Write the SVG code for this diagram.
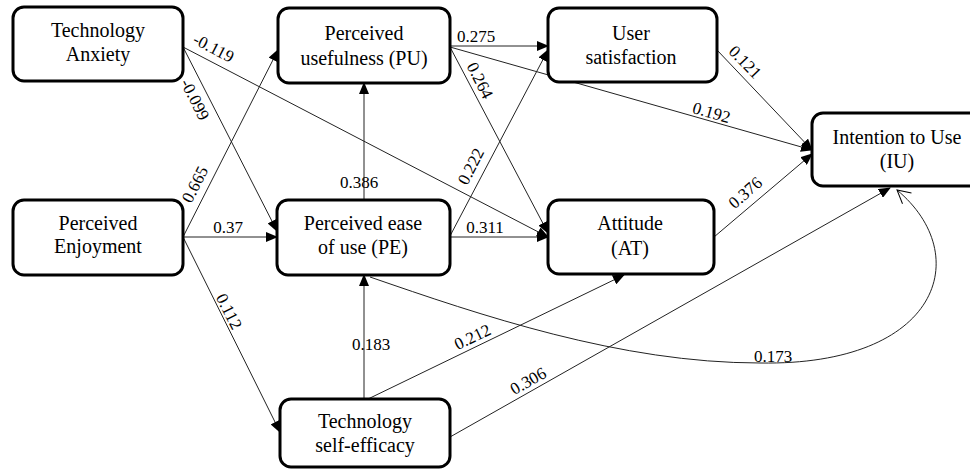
<svg xmlns="http://www.w3.org/2000/svg" width="970" height="471" viewBox="0 0 970 471">
<defs>
<marker id="ah" markerWidth="12" markerHeight="10" refX="11" refY="5" orient="auto" markerUnits="userSpaceOnUse"><path d="M0,0 L12,5 L0,10 z" fill="#000"/></marker>
<marker id="oh" markerWidth="16" markerHeight="16" refX="14" refY="8" orient="auto" markerUnits="userSpaceOnUse"><path d="M1,1 L14,8 L1,15" fill="none" stroke="#000" stroke-width="1"/></marker>
</defs>
<rect width="970" height="471" fill="#fff"/>
<g id="connectors">
<g fill="none" stroke="#222" stroke-width="1" marker-end="url(#ah)">
<path d="M183,47 L548,237"/>
<path d="M183,47 L277,231"/>
<path d="M183,237 L278,50"/>
<path d="M183,237 L277,237"/>
<path d="M183,237 L280,432"/>
<path d="M364,200 L364,83"/>
<path d="M364,399 L364,275"/>
<path d="M450,46 L548,46"/>
<path d="M450,47 L812,150"/>
<path d="M450,47 L548,233"/>
<path d="M450,236 L548,50"/>
<path d="M450,237 L548,237"/>
<path d="M717,50 L812,150"/>
<path d="M714,237 L812,154"/>
<path d="M368,399 L624,275"/>
<path d="M450,437 L890,188"/>
</g>
<path d="M370,277 C480,315 620,363 760,363 C940,366 975,255 897,190" fill="none" stroke="#222" stroke-width="1" marker-end="url(#oh)"/>
<text font-family="Liberation Serif, serif" font-size="17" text-anchor="middle" transform="translate(211,53) rotate(27.5)">-0.119</text>
<text font-family="Liberation Serif, serif" font-size="17" text-anchor="middle" transform="translate(190,102) rotate(63)">-0.099</text>
<text font-family="Liberation Serif, serif" font-size="17" text-anchor="middle" transform="translate(200,187) rotate(-63)">0.665</text>
<text font-family="Liberation Serif, serif" font-size="17" text-anchor="middle" x="228" y="233">0.37</text>
<text font-family="Liberation Serif, serif" font-size="17" text-anchor="middle" transform="translate(224,314) rotate(63)">0.112</text>
<text font-family="Liberation Serif, serif" font-size="17" text-anchor="middle" x="359" y="188">0.386</text>
<text font-family="Liberation Serif, serif" font-size="17" text-anchor="middle" x="371" y="350">0.183</text>
<text font-family="Liberation Serif, serif" font-size="17" text-anchor="middle" x="476" y="42">0.275</text>
<text font-family="Liberation Serif, serif" font-size="17" text-anchor="middle" transform="translate(475,83) rotate(63)">0.264</text>
<text font-family="Liberation Serif, serif" font-size="17" text-anchor="middle" transform="translate(476,169) rotate(-63)">0.222</text>
<text font-family="Liberation Serif, serif" font-size="17" text-anchor="middle" x="485" y="233">0.311</text>
<text font-family="Liberation Serif, serif" font-size="17" text-anchor="middle" transform="translate(710,118) rotate(15.9)">0.192</text>
<text font-family="Liberation Serif, serif" font-size="17" text-anchor="middle" transform="translate(741,66) rotate(45.9)">0.121</text>
<text font-family="Liberation Serif, serif" font-size="17" text-anchor="middle" transform="translate(749,197) rotate(-40.7)">0.376</text>
<text font-family="Liberation Serif, serif" font-size="17" text-anchor="middle" transform="translate(475,342) rotate(-25.8)">0.212</text>
<text font-family="Liberation Serif, serif" font-size="17" text-anchor="middle" transform="translate(531,386) rotate(-29.3)">0.306</text>
<text font-family="Liberation Serif, serif" font-size="17" text-anchor="middle" x="773" y="362">0.173</text>
</g>
<g id="TA"><rect x="13" y="7" width="170" height="74" rx="11" fill="#fff" stroke="#000" stroke-width="3"/><text font-family="Liberation Serif, serif" font-size="20" text-anchor="middle" x="98" y="37">Technology</text><text font-family="Liberation Serif, serif" font-size="20" text-anchor="middle" x="98" y="61">Anxiety</text></g>
<g id="PU"><rect x="278" y="8" width="172" height="75" rx="11" fill="#fff" stroke="#000" stroke-width="3"/><text font-family="Liberation Serif, serif" font-size="20" text-anchor="middle" x="364" y="40">Perceived</text><text font-family="Liberation Serif, serif" font-size="20" text-anchor="middle" x="364" y="65">usefulness (PU)</text></g>
<g id="US"><rect x="548" y="8" width="169" height="74" rx="11" fill="#fff" stroke="#000" stroke-width="3"/><text font-family="Liberation Serif, serif" font-size="20" text-anchor="middle" x="631" y="40">User</text><text font-family="Liberation Serif, serif" font-size="20" text-anchor="middle" x="631" y="64">satisfaction</text></g>
<g id="IU"><rect x="812" y="113" width="172" height="73" rx="11" fill="#fff" stroke="#000" stroke-width="3"/><text font-family="Liberation Serif, serif" font-size="20" text-anchor="middle" x="897" y="144">Intention to Use</text><text font-family="Liberation Serif, serif" font-size="20" text-anchor="middle" x="897" y="168">(IU)</text></g>
<g id="PEnj"><rect x="13" y="200" width="170" height="75" rx="11" fill="#fff" stroke="#000" stroke-width="3"/><text font-family="Liberation Serif, serif" font-size="20" text-anchor="middle" x="98" y="230">Perceived</text><text font-family="Liberation Serif, serif" font-size="20" text-anchor="middle" x="98" y="253">Enjoyment</text></g>
<g id="PE"><rect x="277" y="200" width="173" height="75" rx="11" fill="#fff" stroke="#000" stroke-width="3"/><text font-family="Liberation Serif, serif" font-size="20" text-anchor="middle" x="363" y="230">Perceived ease</text><text font-family="Liberation Serif, serif" font-size="20" text-anchor="middle" x="363" y="254">of use (PE)</text></g>
<g id="AT"><rect x="548" y="200" width="166" height="74" rx="11" fill="#fff" stroke="#000" stroke-width="3"/><text font-family="Liberation Serif, serif" font-size="20" text-anchor="middle" x="630" y="230">Attitude</text><text font-family="Liberation Serif, serif" font-size="20" text-anchor="middle" x="630" y="255">(AT)</text></g>
<g id="TSE"><rect x="280" y="399" width="170" height="68" rx="11" fill="#fff" stroke="#000" stroke-width="3"/><text font-family="Liberation Serif, serif" font-size="20" text-anchor="middle" x="365" y="428">Technology</text><text font-family="Liberation Serif, serif" font-size="20" text-anchor="middle" x="365" y="452">self-efficacy</text></g>
</svg>
